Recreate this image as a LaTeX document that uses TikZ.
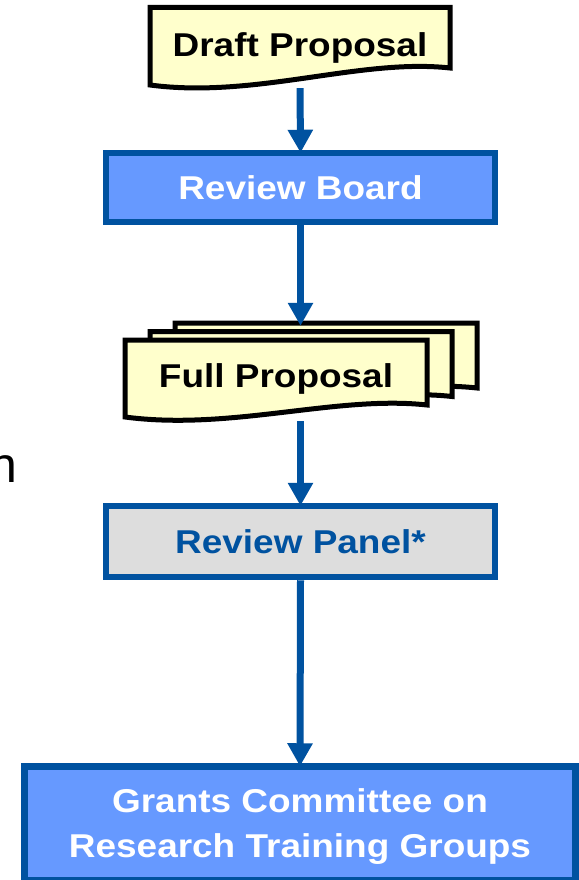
\documentclass[tikz,border=0pt]{standalone}
\usepackage{fontspec}
\setmainfont{Liberation Sans}[FakeStretch=1.12]
\newfontfamily\sidefont{Liberation Sans}
\usetikzlibrary{arrows.meta}
\definecolor{docyellow}{HTML}{FFFFCC}
\definecolor{boxblue}{HTML}{6699FF}
\definecolor{edgeblue}{RGB}{0,82,160}
\definecolor{panelgray}{HTML}{DDDDDD}
\newcommand{\docshape}[5]{% L T R B d
  \path[docstyle] (#1,#2) -- (#3,#2) -- (#3,{#4-#5})
    .. controls ({#3-0.3*(#3-#1)},{#4-#5-10}) and ({#1+0.35*(#3-#1)},{#4+14}) .. (#1,#4) -- cycle;}
\tikzset{
  docstyle/.style={fill=docyellow, draw=black, line width=5pt, line join=miter},
  docnode/.style={inner sep=0pt, font=\bfseries\fontsize{33}{40}\selectfont, text=black},
  bluebox/.style={draw=edgeblue, line width=6.5pt, fill=boxblue, inner sep=0pt,
    font=\bfseries\fontsize{33}{40}\selectfont, text=white},
  graybox/.style={bluebox, fill=panelgray, text=edgeblue},
  flow/.style={draw=edgeblue, line width=7pt, -{Triangle[width=24pt,length=23pt]}, shorten >=-3pt},
}
\begin{document}
\begin{tikzpicture}[x=1pt,y=-1pt]
\useasboundingbox (0,0) rectangle (578,880);
% side text fragment
\node[anchor=base east, inner sep=0pt, font=\sidefont\fontsize{50}{60}\selectfont] (side) at (18,482) {n};
% Draft Proposal
\docshape{150}{7.5}{450}{85}{17}
\node[docnode, minimum width=300pt, minimum height=80.5pt] (draft) at (300,47.75) {Draft Proposal};
% Review Board
\node[bluebox, minimum width=389pt, minimum height=69pt] (board) at (300.5,187.5) {Review Board};
% Full Proposal (stack)
\docshape{175}{323}{477}{400}{12}
\node[docnode, minimum width=302pt, minimum height=77pt] (fullback) at (326,361.5) {};
\docshape{150}{331.5}{452}{408.5}{12}
\node[docnode, minimum width=302pt, minimum height=77pt] (fullmid) at (301,370) {};
\docshape{125}{340}{427}{417}{12}
\node[docnode, minimum width=302pt, minimum height=77pt] (full) at (276,378.5) {Full Proposal};
% Review Panel
\node[graybox, minimum width=389pt, minimum height=71pt] (panel) at (300.5,541.5) {Review Panel*};
% Grants Committee
\node[bluebox, minimum width=551pt, minimum height=113.5pt] (grants) at (300,823.25) {};
\node[align=center, inner sep=0pt, text=white, font=\bfseries\fontsize{33}{45}\selectfont] (grantstext) at (300,827) {Grants Committee on\\Research Training Groups};
% connectors
\draw[flow] (draft.south) -- (board.north);
\draw[flow] (board.south) -- (board.south |- fullback.north);
\draw[flow, shorten <=4pt] (board.south |- full.south) -- (panel.north);
\draw[flow] (panel.south) -- (grants.north);
\end{tikzpicture}
\end{document}
